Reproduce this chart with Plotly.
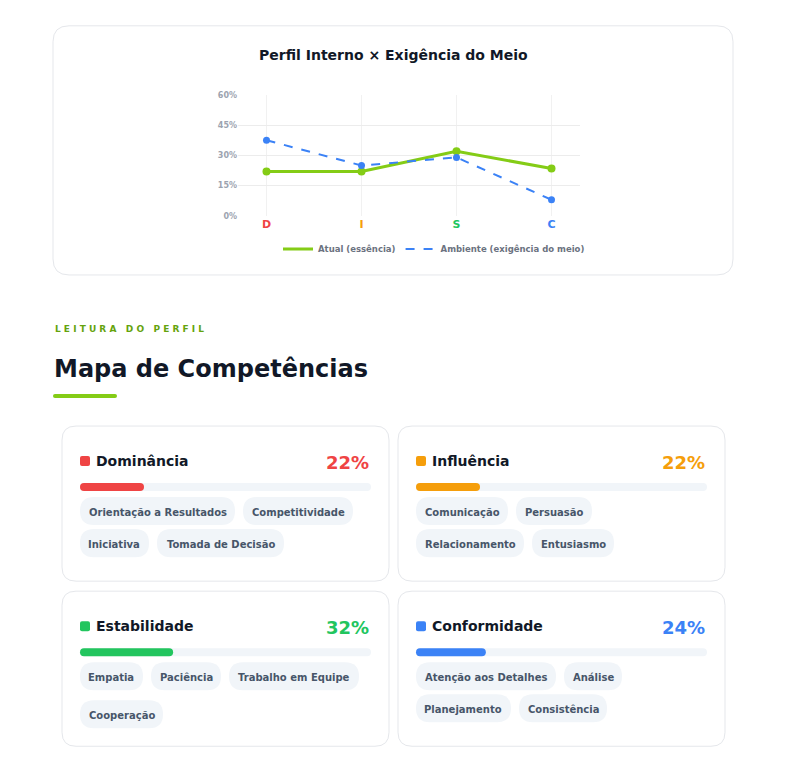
import plotly.graph_objects as go

# the page body has an 8px margin, so the figure is 16px smaller than the window
W, H = 770, 757
OFF = 8
# vertical correction measured from the rendered page
VS, VTOP = 0.9875, 12.2

# chart data
fatores = ["D", "I", "S", "C"]
cores_fatores = ["#ef4444", "#f59e0b", "#22c55e", "#3b82f6"]
atual = [22, 22, 32, 23.5]
ambiente = [37.5, 25, 29, 8]

# competency cards
nomes = ["Dominância", "Influência", "Estabilidade", "Conformidade"]
percentuais = [22, 22, 32, 24]
competencias = [
    [["Orientação a Resultados", "Competitividade"], ["Iniciativa", "Tomada de Decisão"]],
    [["Comunicação", "Persuasão"], ["Relacionamento", "Entusiasmo"]],
    [["Empatia", "Paciência", "Trabalho em Equipe"], ["Cooperação"]],
    [["Atenção aos Detalhes", "Análise"], ["Planejamento", "Consistência"]],
]

FONT = "DejaVu Sans"


def px(x):
    return (x - OFF) / W


def py(y):
    return 1 - (y - VTOP) / VS / H


def rrect(x0, y0, x1, y1, r):
    return (f"M {px(x0 + r)},{py(y0)} L {px(x1 - r)},{py(y0)} Q {px(x1)},{py(y0)} {px(x1)},{py(y0 + r)} "
            f"L {px(x1)},{py(y1 - r)} Q {px(x1)},{py(y1)} {px(x1 - r)},{py(y1)} "
            f"L {px(x0 + r)},{py(y1)} Q {px(x0)},{py(y1)} {px(x0)},{py(y1 - r)} "
            f"L {px(x0)},{py(y0 + r)} Q {px(x0)},{py(y0)} {px(x0 + r)},{py(y0)} Z")


shapes = []
annotations = []


def box(x0, y0, x1, y1, r, fill, line=None):
    shapes.append(dict(type="path", xref="paper", yref="paper", path=rrect(x0, y0, x1, y1, r),
                       fillcolor=fill, line=dict(color=line or fill, width=1 if line else 0), layer="below"))


def text(x, y, s, size, color, anchor="left", bold=True):
    annotations.append(dict(x=px(x), y=py(y), xref="paper", yref="paper", text=f"<b>{s}</b>" if bold else s,
                            showarrow=False, xanchor=anchor, yanchor="middle",
                            font=dict(family=FONT, size=size, color=color)))


fig = go.Figure()
fig.add_trace(go.Scatter(x=fatores, y=atual, mode="lines+markers", showlegend=False,
                         line=dict(color="#84cc16", width=3), marker=dict(size=8)))
fig.add_trace(go.Scatter(x=fatores, y=ambiente, mode="lines+markers", showlegend=False,
                         line=dict(color="#3b82f6", width=2, dash="dash"), marker=dict(size=7)))
# legend entries (lines only, like the reference)
fig.add_trace(go.Scatter(x=[None], y=[None], mode="lines", name="<b>Atual (essência)</b>",
                         line=dict(color="#84cc16", width=3)))
fig.add_trace(go.Scatter(x=[None], y=[None], mode="lines", name="<b>Ambiente (exigência do meio)</b>",
                         line=dict(color="#3b82f6", width=2, dash="dash")))

# top card
box(53, 26, 733, 275, 16, "white", "#e5e7eb")
text(393, 55, "Perfil Interno × Exigência do Meio", 14, "#111827", "center")

# section header
text(53, 329, "L E I T U R A   D O   P E R F I L", 9, "#65a30d")
text(52, 369, "Mapa de Competências", 24, "#111827")
shapes.append(dict(type="path", xref="paper", yref="paper", path=rrect(53, 394, 117, 398, 2),
                   fillcolor="#84cc16", line=dict(width=0)))

# chip rows per card: (x0, width) lists
chips = [
    [[(80, 155), (243, 110)], [(80, 69), (157, 127)]],
    [[(416, 92), (516, 76)], [(416, 108), (532, 82)]],
    [[(80, 63), (151, 70), (229, 130)], [(80, 83)]],
    [[(416, 140), (564, 58)], [(416, 95), (519, 88)]],
]
row2_off = [32, 32, 38, 32]
cards = [(62, 426), (398, 426), (62, 591), (398, 591)]
for i, (cx, cy) in enumerate(cards):
    box(cx, cy, cx + 327, cy + 155, 14, "white", "#e5e7eb")
    cor = cores_fatores[i]
    box(cx + 18, cy + 30, cx + 28, cy + 40, 2, cor)
    text(cx + 32, cy + 35, nomes[i], 14, "#111827")
    text(cx + 309, cy + 36, f"{percentuais[i]}%", 18, cor, "right")
    box(cx + 18, cy + 57, cx + 309, cy + 65, 4, "#f1f5f9")
    box(cx + 18, cy + 57, cx + 18 + 291 * percentuais[i] / 100, cy + 65, 4, cor)
    for r, row in enumerate(competencias[i]):
        ytop = cy + 71 + r * row2_off[i]
        for (x0, w), nome in zip(chips[i][r], row):
            box(x0, ytop, x0 + w, ytop + 28, 14, "#f1f5f9")
            text(x0 + w / 2, ytop + 15, nome, 10, "#475569", "center")

fig.update_layout(
    width=W, height=H, margin=dict(l=0, r=0, t=0, b=0),
    paper_bgcolor="white", plot_bgcolor="white",
    font=dict(family=FONT),
    shapes=shapes, annotations=annotations,
    xaxis=dict(domain=[px(238), px(580)], range=[-0.3, 3.3], tickvals=fatores,
               ticktext=[f"<b><span style='color:{c}'>{f}</span></b>" for f, c in zip(fatores, cores_fatores)],
               tickfont=dict(size=11), showgrid=True, gridcolor="#f1f1f1", zeroline=False, ticks=""),
    yaxis=dict(domain=[py(216), py(95)], range=[0, 60], tickvals=[0, 15, 30, 45, 60],
               ticktext=["<b>0%</b>", "<b>15%</b>", "<b>30%</b>", "<b>45%</b>", "<b>60%</b>"],
               tickfont=dict(size=8, color="#9ca3af"), gridcolor="#ececec", zeroline=False),
    legend=dict(orientation="h", x=px(434), xanchor="center", y=py(249), yanchor="middle",
                font=dict(size=8.5, color="#6b7280", family=FONT), bgcolor="rgba(0,0,0,0)"),
    showlegend=True,
)

fig.write_html("out.html")
